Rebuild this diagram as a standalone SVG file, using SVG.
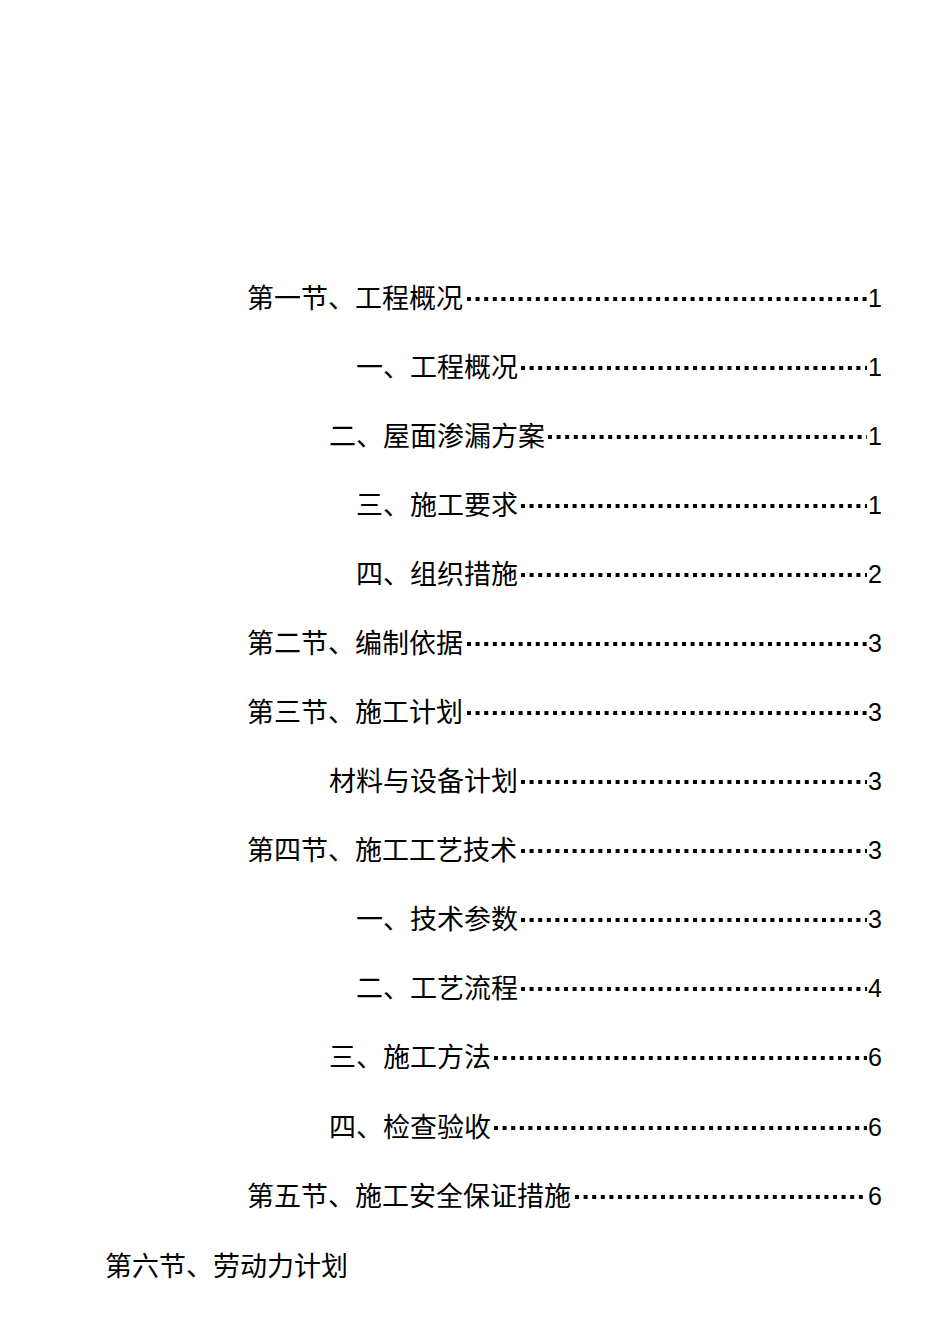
<svg xmlns="http://www.w3.org/2000/svg" width="950" height="1344" viewBox="0 0 950 1344">
<style>
.t{font-family:"Noto Sans CJK SC","Noto Sans",sans-serif;font-size:27px;fill:#000}
.n{font-family:"Liberation Sans",sans-serif;font-size:25px;fill:#000}
.d{stroke:#000;stroke-width:4;stroke-dasharray:4 4.6}
</style>
<rect width="950" height="1344" fill="#fff"/>
<g id="e1"><text class="t" x="247" y="308">第一节、工程概况</text><line class="d" x1="467" y1="299" x2="867" y2="299"/><text class="n" x="868" y="307">1</text></g>
<g id="e2"><text class="t" x="356" y="377">一、工程概况</text><line class="d" x1="521" y1="368" x2="867" y2="368"/><text class="n" x="868" y="376">1</text></g>
<g id="e3"><text class="t" x="329" y="446">二、屋面渗漏方案</text><line class="d" x1="548" y1="437" x2="867" y2="437"/><text class="n" x="868" y="445">1</text></g>
<g id="e4"><text class="t" x="356" y="515">三、施工要求</text><line class="d" x1="521" y1="506" x2="867" y2="506"/><text class="n" x="868" y="514">1</text></g>
<g id="e5"><text class="t" x="356" y="584">四、组织措施</text><line class="d" x1="521" y1="575" x2="867" y2="575"/><text class="n" x="868" y="583">2</text></g>
<g id="e6"><text class="t" x="247" y="653">第二节、编制依据</text><line class="d" x1="467" y1="644" x2="867" y2="644"/><text class="n" x="868" y="652">3</text></g>
<g id="e7"><text class="t" x="247" y="722">第三节、施工计划</text><line class="d" x1="467" y1="713" x2="867" y2="713"/><text class="n" x="868" y="721">3</text></g>
<g id="e8"><text class="t" x="329" y="791">材料与设备计划</text><line class="d" x1="521" y1="782" x2="867" y2="782"/><text class="n" x="868" y="790">3</text></g>
<g id="e9"><text class="t" x="247" y="860">第四节、施工工艺技术</text><line class="d" x1="521" y1="851" x2="867" y2="851"/><text class="n" x="868" y="859">3</text></g>
<g id="e10"><text class="t" x="356" y="929">一、技术参数</text><line class="d" x1="521" y1="920" x2="867" y2="920"/><text class="n" x="868" y="928">3</text></g>
<g id="e11"><text class="t" x="356" y="998">二、工艺流程</text><line class="d" x1="521" y1="989" x2="867" y2="989"/><text class="n" x="868" y="997">4</text></g>
<g id="e12"><text class="t" x="329" y="1067">三、施工方法</text><line class="d" x1="494" y1="1058" x2="867" y2="1058"/><text class="n" x="868" y="1066">6</text></g>
<g id="e13"><text class="t" x="329" y="1137">四、检查验收</text><line class="d" x1="494" y1="1128" x2="867" y2="1128"/><text class="n" x="868" y="1136">6</text></g>
<g id="e14"><text class="t" x="247" y="1206">第五节、施工安全保证措施</text><line class="d" x1="575" y1="1197" x2="867" y2="1197"/><text class="n" x="868" y="1205">6</text></g>
<g id="e15"><text class="t" x="105" y="1276">第六节、劳动力计划</text></g>
<g id="connectors"/>
</svg>
